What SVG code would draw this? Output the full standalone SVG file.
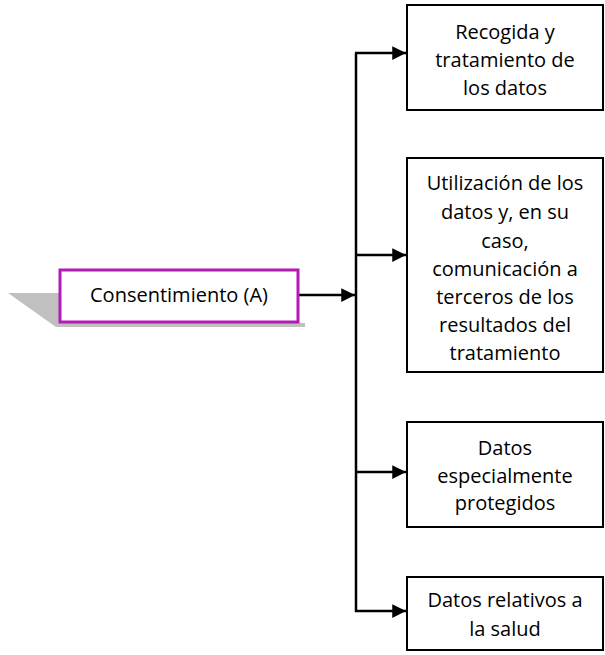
<svg xmlns="http://www.w3.org/2000/svg" width="605" height="655" viewBox="0 0 605 655">
<defs>
<style>
.box{fill:#fff;stroke:#000;stroke-width:2}
.t{font-family:"Open Sans","Liberation Sans",sans-serif;font-size:20px;fill:#000;text-anchor:middle}
.c{fill:none;stroke:#000;stroke-width:2.5}
</style>
<marker id="ah" viewBox="0 0 10 10" refX="10" refY="5" markerWidth="5.5" markerHeight="5.5" markerUnits="strokeWidth" orient="auto">
<path d="M0,0 L10,5 L0,10 z" fill="#000"/>
</marker>
</defs>
<rect width="605" height="655" fill="#fff"/>
<g id="connectors">
<line class="c" x1="298" y1="295" x2="355" y2="295" marker-end="url(#ah)"/>
<polyline class="c" points="356,53 356,612"/>
<line class="c" x1="355" y1="53" x2="406" y2="53" marker-end="url(#ah)"/>
<line class="c" x1="355" y1="255" x2="406" y2="255" marker-end="url(#ah)"/>
<line class="c" x1="355" y1="472" x2="406" y2="472" marker-end="url(#ah)"/>
<line class="c" x1="355" y1="611" x2="406" y2="611" marker-end="url(#ah)"/>
</g>
<g id="consentimiento">
<polygon points="8,293 60,293 60,323 305,323 305,327 56,327" fill="#c0c0c0"/>
<rect x="60" y="270" width="238" height="52" fill="#fff" stroke="#b31cb3" stroke-width="3"/>
<text class="t" x="179" y="302">Consentimiento (A)</text>
</g>
<g id="recogida">
<rect class="box" x="407" y="5" width="196" height="105"/>
<text class="t" x="505" y="39">Recogida y</text>
<text class="t" x="505" y="67">tratamiento de</text>
<text class="t" x="505" y="95">los datos</text>
</g>
<g id="utilizacion">
<rect class="box" x="407" y="158" width="196" height="214"/>
<text class="t" x="505" y="190">Utilización de los</text>
<text class="t" x="505" y="219">datos y, en su</text>
<text class="t" x="505" y="248">caso,</text>
<text class="t" x="505" y="276">comunicación a</text>
<text class="t" x="505" y="304">terceros de los</text>
<text class="t" x="505" y="332">resultados del</text>
<text class="t" x="505" y="360">tratamiento</text>
</g>
<g id="especiales">
<rect class="box" x="407" y="422" width="196" height="105"/>
<text class="t" x="505" y="455">Datos</text>
<text class="t" x="505" y="483">especialmente</text>
<text class="t" x="505" y="510">protegidos</text>
</g>
<g id="salud">
<rect class="box" x="407" y="577" width="196" height="73"/>
<text class="t" x="505" y="607">Datos relativos a</text>
<text class="t" x="505" y="636">la salud</text>
</g>
</svg>
